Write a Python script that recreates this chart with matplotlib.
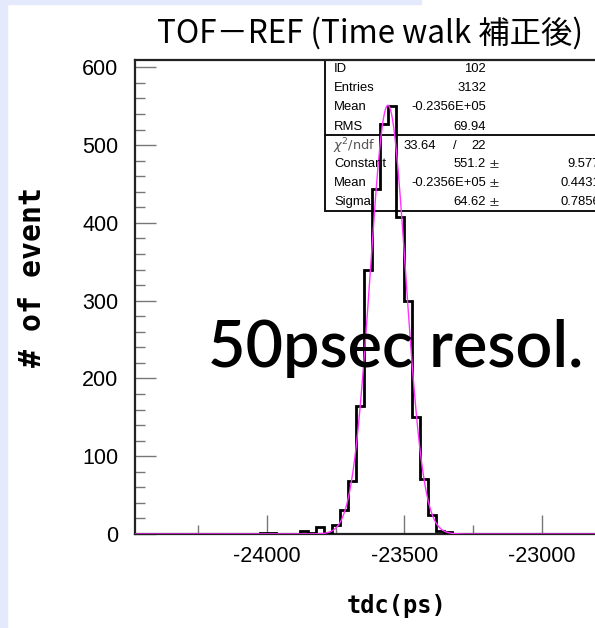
import numpy as np
import matplotlib
matplotlib.use("Agg")
import matplotlib.pyplot as plt
from matplotlib.patches import Rectangle
from matplotlib.ticker import MultipleLocator, FixedLocator

plt.rcParams["axes.unicode_minus"] = False

# ---------------- data ----------------
bin_lo = -24487.0
bin_width = 29.0
counts = [0] * 16 + [1, 1, 0, 0, 0, 4, 1, 9, 1, 11, 31, 68, 165, 340, 444, 527,
                     550, 408, 300, 150, 71, 25, 4, 2] + [0] * 30
x_range = (-24478, -22478)
y_range = (0, 610)
x_ticks = [-24000, -23500, -23000]
y_ticks = [0, 100, 200, 300, 400, 500, 600]

fit_const = 551.2
fit_mean = -23560.0
fit_sigma = 64.62

title = "TOF\uff0dREF (Time walk 補正後)"
xlabel = "tdc(ps)"
ylabel = "# of event"
note = "50psec resol."

stats_top = [("ID", "102"), ("Entries", "3132"), ("Mean", "-0.2356E+05"), ("RMS", "69.94")]
chi2_vals = ("33.64", "22")
fit_rows = [("Constant", "551.2", "9.577"), ("Mean", "-0.2356E+05", "0.4431"),
            ("Sigma", "64.62", "0.7856")]

# ---------------- figure ----------------
W, H = 595, 628
fig = plt.figure(figsize=(W / 100, H / 100), dpi=100)
fig.patches.append(Rectangle((0, 0), 7 / W, 1, transform=fig.transFigure,
                             color="#e4e9fb", zorder=0))
fig.patches.append(Rectangle((0, 1 - 4 / H), 421 / W, 4 / H, transform=fig.transFigure,
                             color="#e4e9fb", zorder=0))

ax_l, ax_r, ax_t, ax_b = 135, 686, 59.5, 534
ax = fig.add_axes([ax_l / W, (H - ax_b) / H, (ax_r - ax_l) / W, (ax_b - ax_t) / H])
ax.set_xlim(*x_range)
ax.set_ylim(*y_range)

edges = bin_lo + bin_width * np.arange(len(counts) + 1)
ax.stairs(counts, edges, color="black", lw=2.0, zorder=3)

xx = np.linspace(x_range[0], x_range[1], 2000)
ax.plot(xx, fit_const * np.exp(-0.5 * ((xx - fit_mean) / fit_sigma) ** 2),
        color="#ff33ff", lw=1.0, zorder=4)

for s in ["left", "bottom", "top"]:
    ax.spines[s].set_linewidth(1.6)
    ax.spines[s].set_color("#222222")
ax.spines["right"].set_visible(False)

ax.xaxis.set_major_locator(FixedLocator(x_ticks))
ax.xaxis.set_minor_locator(MultipleLocator(250))
ax.yaxis.set_major_locator(FixedLocator(y_ticks))
ax.yaxis.set_minor_locator(MultipleLocator(20))
ax.tick_params(which="both", direction="in", color="#777777", width=1.0,
               top=False, right=False)
ax.tick_params(axis="y", which="major", length=15, pad=12)
ax.tick_params(axis="y", which="minor", length=7.5)
ax.tick_params(axis="x", which="major", length=14, pad=9)
ax.tick_params(axis="x", which="minor", length=6.5)
for lab in ax.get_xticklabels() + ax.get_yticklabels():
    lab.set_fontfamily("Liberation Sans")
    lab.set_fontsize(15.5)

fig.text(397 / W, 1 - 606 / H, xlabel, family="DejaVu Sans Mono", fontsize=17,
         fontweight="bold", ha="center", va="center")
fig.text(33 / W, 1 - 277 / H, ylabel, family="DejaVu Sans Mono", fontsize=21.5,
         fontweight="bold", ha="center", va="center", rotation=90)
fig.text(370 / W, 1 - 33 / H, title, family=["Noto Sans CJK JP", "DejaVu Sans"],
         fontsize=22.6, ha="center", va="center")
fig.text(208 / W, 1 - 349 / H, note, family="Lato", fontsize=46.5, fontweight="semibold",
         ha="left", va="center", zorder=10)

# ---------------- stats box (figure pixel coords) ----------------
def fx(px):
    return px / W

def fy(py):
    return 1 - py / H

box_l, box_r, box_t, box_sep, box_b = 325, 700, 59.5, 135, 211
fig.patches.append(Rectangle((fx(box_l), fy(box_b)), fx(box_r) - fx(box_l),
                             fy(box_t) - fy(box_b), transform=fig.transFigure,
                             facecolor="white", edgecolor="#111111", lw=1.4, zorder=1))
fig.lines.append(plt.Line2D([fx(box_l), fx(box_r)], [fy(box_sep), fy(box_sep)],
                            transform=fig.transFigure, color="#111111", lw=1.4, zorder=1.5))
ax.set_zorder(2)
ax.patch.set_alpha(0)

fs = 9.4
row_y = [69, 88.3, 107.3, 126.7]
for (lab, val), y in zip(stats_top, row_y):
    fig.text(fx(334), fy(y), lab, family="Liberation Sans", fontsize=fs, va="center", ha="left")
    fig.text(fx(486), fy(y), val, family="Liberation Sans", fontsize=fs, va="center", ha="right")

y = 145.7
fig.text(fx(333), fy(y), r"$\chi^2$/ndf", family="DejaVu Sans", fontsize=fs,
         va="center", ha="left", color="#555555")
fig.text(fx(403), fy(y), chi2_vals[0], family="Liberation Sans", fontsize=fs, va="center", ha="left")
fig.text(fx(455), fy(y), "/", family="Liberation Sans", fontsize=fs, va="center", ha="center")
fig.text(fx(486), fy(y), chi2_vals[1], family="Liberation Sans", fontsize=fs, va="center", ha="right")

for (lab, val, err), y in zip(fit_rows, [164.3, 183.3, 202]):
    fig.text(fx(334), fy(y), lab, family="Liberation Sans", fontsize=fs, va="center", ha="left")
    fig.text(fx(486), fy(y), val, family="Liberation Sans", fontsize=fs, va="center", ha="right")
    fig.text(fx(494), fy(y), "\u00b1", family="DejaVu Sans", fontsize=fs, va="center",
             ha="center", color="#333333")
    fig.text(fx(600), fy(y), err, family="Liberation Sans", fontsize=fs, va="center", ha="right")

fig.savefig("out.png", dpi=100)
